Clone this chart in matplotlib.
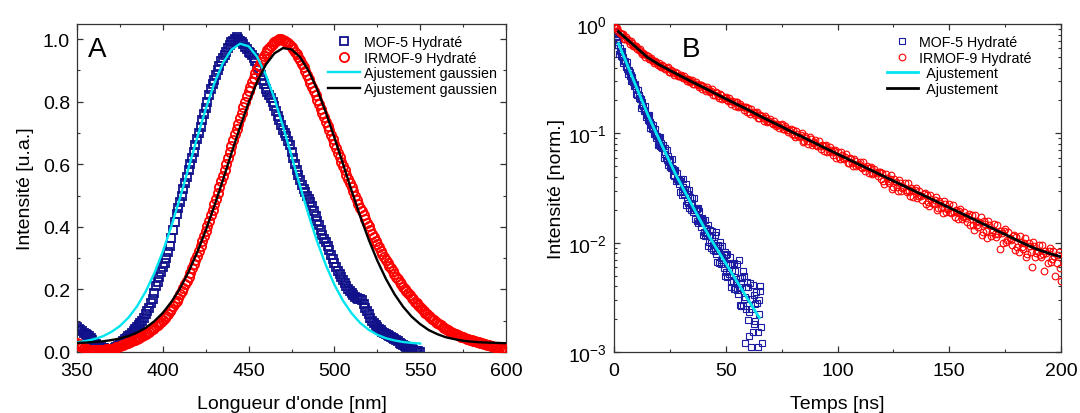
import numpy as np
import matplotlib
matplotlib.use("Agg")
import matplotlib.pyplot as plt
from matplotlib.ticker import MultipleLocator, LogLocator, NullFormatter, FormatStrFormatter

plt.rcParams['font.family'] = ['Liberation Sans', 'DejaVu Sans']
plt.rcParams['mathtext.fontset'] = 'custom'
plt.rcParams['mathtext.rm'] = 'Liberation Sans'
plt.rcParams['mathtext.it'] = 'Liberation Sans'
plt.rcParams['mathtext.default'] = 'regular'

# ---------------- Panel A : emission spectra ----------------
wl_mof5 = list(range(350, 551, 2))
int_mof5 = [0.080, 0.070, 0.060, 0.055, 0.045, 0.030, 0.020, 0.015, 0.012, 0.010,
            0.010, 0.012, 0.020, 0.030, 0.040, 0.050, 0.060, 0.075, 0.085, 0.100,
            0.120, 0.140, 0.170, 0.210, 0.240, 0.270, 0.300, 0.340, 0.390, 0.440,
            0.480, 0.520, 0.560, 0.600, 0.640, 0.680, 0.720, 0.760, 0.800, 0.840,
            0.870, 0.900, 0.930, 0.950, 0.970, 0.990, 1.000, 1.000, 0.990, 0.975,
            0.960, 0.950, 0.930, 0.900, 0.870, 0.840, 0.820, 0.800, 0.770, 0.740,
            0.710, 0.690, 0.660, 0.620, 0.580, 0.550, 0.520, 0.500, 0.480, 0.450,
            0.420, 0.390, 0.360, 0.340, 0.310, 0.285, 0.260, 0.240, 0.220, 0.200,
            0.190, 0.175, 0.170, 0.165, 0.140, 0.120, 0.100, 0.085, 0.075, 0.065,
            0.056, 0.050, 0.044, 0.038, 0.030, 0.022, 0.016, 0.010, 0.006, 0.003,
            0.000]
wl_mof5_odd = list(range(351, 550, 2))
int_mof5_odd = [0.075, 0.068, 0.058, 0.050, 0.038, 0.025, 0.017, 0.013, 0.011, 0.010,
                0.011, 0.016, 0.025, 0.035, 0.045, 0.055, 0.068, 0.080, 0.092, 0.110,
                0.130, 0.155, 0.190, 0.225, 0.255, 0.285, 0.320, 0.365, 0.415, 0.460,
                0.500, 0.540, 0.580, 0.620, 0.660, 0.700, 0.740, 0.780, 0.820, 0.855,
                0.885, 0.915, 0.940, 0.960, 0.980, 0.995, 1.005, 0.995, 0.985, 0.968,
                0.955, 0.940, 0.915, 0.885, 0.855, 0.830, 0.810, 0.785, 0.755, 0.725,
                0.700, 0.675, 0.640, 0.600, 0.565, 0.535, 0.510, 0.490, 0.465, 0.435,
                0.405, 0.375, 0.350, 0.325, 0.298, 0.272, 0.250, 0.230, 0.210, 0.195,
                0.182, 0.172, 0.168, 0.152, 0.130, 0.110, 0.092, 0.080, 0.070, 0.060,
                0.053, 0.047, 0.041, 0.034, 0.026, 0.019, 0.013, 0.008, 0.004, 0.002]

wl_irmof9 = list(range(350, 601, 2))
int_irmof9 = [0.030, 0.020, 0.012, 0.008, 0.006, 0.005, 0.005, 0.006, 0.007, 0.008,
              0.010, 0.013, 0.017, 0.021, 0.025, 0.030, 0.034, 0.039, 0.045, 0.051,
              0.058, 0.065, 0.073, 0.082, 0.092, 0.103, 0.116, 0.130, 0.146, 0.164,
              0.184, 0.205, 0.228, 0.254, 0.280, 0.308, 0.338, 0.370, 0.403, 0.437,
              0.472, 0.508, 0.545, 0.582, 0.620, 0.658, 0.695, 0.730, 0.765, 0.800,
              0.833, 0.862, 0.890, 0.915, 0.937, 0.956, 0.972, 0.985, 0.995, 1.000,
              0.998, 0.992, 0.982, 0.968, 0.951, 0.932, 0.910, 0.886, 0.860, 0.833,
              0.806, 0.778, 0.750, 0.722, 0.694, 0.666, 0.637, 0.608, 0.580, 0.553,
              0.527, 0.500, 0.474, 0.449, 0.425, 0.401, 0.378, 0.356, 0.335, 0.314,
              0.295, 0.276, 0.258, 0.241, 0.225, 0.209, 0.195, 0.181, 0.168, 0.155,
              0.143, 0.132, 0.121, 0.111, 0.102, 0.093, 0.085, 0.078, 0.071, 0.065,
              0.059, 0.054, 0.049, 0.045, 0.041, 0.037, 0.034, 0.031, 0.028, 0.025,
              0.022, 0.019, 0.016, 0.013, 0.010, 0.008]
wl_irmof9_odd = list(range(351, 600, 2))
int_irmof9_odd = [0.025, 0.016, 0.010, 0.007, 0.005, 0.005, 0.005, 0.006, 0.008, 0.009,
                  0.011, 0.015, 0.019, 0.023, 0.028, 0.032, 0.037, 0.042, 0.048, 0.054,
                  0.062, 0.069, 0.078, 0.087, 0.097, 0.110, 0.123, 0.138, 0.155, 0.174,
                  0.194, 0.216, 0.241, 0.267, 0.294, 0.323, 0.354, 0.386, 0.420, 0.455,
                  0.490, 0.527, 0.563, 0.601, 0.639, 0.677, 0.713, 0.748, 0.783, 0.818,
                  0.848, 0.876, 0.903, 0.926, 0.947, 0.965, 0.979, 0.990, 0.998, 1.000,
                  0.995, 0.987, 0.975, 0.960, 0.942, 0.921, 0.898, 0.873, 0.847, 0.820,
                  0.792, 0.764, 0.736, 0.708, 0.680, 0.652, 0.622, 0.594, 0.566, 0.540,
                  0.513, 0.487, 0.461, 0.437, 0.413, 0.389, 0.367, 0.345, 0.324, 0.304,
                  0.285, 0.267, 0.249, 0.233, 0.217, 0.202, 0.188, 0.174, 0.161, 0.149,
                  0.137, 0.126, 0.116, 0.106, 0.097, 0.089, 0.081, 0.074, 0.068, 0.062,
                  0.056, 0.051, 0.047, 0.043, 0.039, 0.035, 0.032, 0.029, 0.026, 0.023,
                  0.020, 0.017, 0.014, 0.011, 0.009]

wl_fit_mof5 = list(range(350, 551, 5))
fit_mof5 = [0.031, 0.035, 0.041, 0.050, 0.064, 0.083, 0.110, 0.146, 0.193, 0.251,
            0.321, 0.402, 0.492, 0.588, 0.684, 0.776, 0.858, 0.923, 0.966, 0.985,
            0.977, 0.943, 0.886, 0.811, 0.722, 0.627, 0.530, 0.437, 0.352, 0.278,
            0.215, 0.164, 0.124, 0.093, 0.071, 0.055, 0.044, 0.037, 0.032, 0.029,
            0.027]

wl_fit_irmof9 = list(range(350, 601, 5))
fit_irmof9 = [0.029, 0.030, 0.032, 0.034, 0.038, 0.043, 0.051, 0.062, 0.077, 0.098,
              0.125, 0.160, 0.203, 0.256, 0.318, 0.388, 0.466, 0.549, 0.635, 0.718,
              0.796, 0.864, 0.918, 0.954, 0.971, 0.967, 0.942, 0.898, 0.839, 0.766,
              0.685, 0.601, 0.516, 0.434, 0.359, 0.292, 0.234, 0.185, 0.145, 0.113,
              0.089, 0.070, 0.057, 0.047, 0.041, 0.036, 0.033, 0.031, 0.030, 0.029,
              0.028]

# ---------------- Panel B : decays ----------------
t_mof5 = [i * 0.5 for i in range(131)] + [65.5, 66.0]
dec_mof5 = [0.871, 0.813, 0.759, 0.708, 0.646, 0.565, 0.558, 0.498, 0.504, 0.461,
            0.456, 0.406, 0.390, 0.378, 0.337, 0.344, 0.308, 0.296, 0.271, 0.272,
            0.255, 0.225, 0.223, 0.206, 0.207, 0.181, 0.179, 0.159, 0.161, 0.147,
            0.146, 0.130, 0.126, 0.122, 0.110, 0.113, 0.1016, 0.0984, 0.0906, 0.0912,
            0.0929, 0.0769, 0.0811, 0.0729, 0.0789, 0.0641, 0.0670, 0.0565, 0.0617, 0.0551,
            0.0574, 0.0484, 0.0478, 0.0476, 0.0406, 0.0451, 0.0386, 0.0383, 0.0344, 0.0370,
            0.0379, 0.0275, 0.0323, 0.0277, 0.0343, 0.0240, 0.0276, 0.0208, 0.0262, 0.0221,
            0.0254, 0.0191, 0.0197, 0.0207, 0.0159, 0.0208, 0.0160, 0.0164, 0.0138, 0.0168,
            0.0158, 0.0115, 0.0136, 0.0117, 0.0145, 0.0102, 0.0118, 0.00889, 0.0113, 0.00951,
            0.0118, 0.00794, 0.00855, 0.00944, 0.00653, 0.01005, 0.00693, 0.00746, 0.00592, 0.00817,
            0.00764, 0.00485, 0.00634, 0.00516, 0.00733, 0.00441, 0.00558, 0.00376, 0.00547, 0.00435,
            0.00638, 0.00337, 0.00391, 0.00473, 0.00262, 0.00552, 0.00305, 0.00120, 0.00247, 0.00433,
            0.00397, 0.00140, 0.00306, 0.00110, 0.00410, 0.00180, 0.00275, 0.00090, 0.00279, 0.00110,
            0.00297, 0.00360, 0.00120]
t_mof5_b = [0.25, 0.75, 1.25, 1.75] + [i * 0.5 + 0.25 for i in range(4, 130)] + [65.25, 65.75]
dec_mof5_b = [0.840, 0.780, 0.730, 0.690,
              0.535, 0.608, 0.512, 0.562, 0.442, 0.458, 0.413, 0.453, 0.348, 0.369,
              0.361, 0.300, 0.329, 0.283, 0.284, 0.231, 0.228, 0.250, 0.210, 0.211,
              0.171, 0.195, 0.164, 0.179, 0.141, 0.146, 0.132, 0.146, 0.113, 0.120,
              0.118, 0.0989, 0.109, 0.0944, 0.0951, 0.0776,
              0.0791, 0.0927, 0.0752, 0.0774, 0.0597, 0.0735, 0.0596, 0.0698, 0.0513, 0.0556,
              0.0495, 0.0581, 0.0413, 0.0462, 0.0461, 0.0368, 0.0435, 0.0365, 0.0378, 0.0293,
              0.0296, 0.0382, 0.0290, 0.0312, 0.0221, 0.0306, 0.0233, 0.0301, 0.0199, 0.0229,
              0.0200, 0.0258, 0.0163, 0.0197, 0.0202, 0.0150, 0.0194, 0.0154, 0.0166, 0.0117,
              0.0124, 0.0160, 0.0122, 0.0132, 0.00938, 0.0130, 0.00995, 0.0129, 0.00857, 0.00989,
              0.00845, 0.0124, 0.00667, 0.00885, 0.00940, 0.00634, 0.00927, 0.00690, 0.00780, 0.00494,
              0.00541, 0.00791, 0.00552, 0.00624, 0.00395, 0.00637, 0.00444, 0.00650, 0.00373, 0.00466,
              0.00372, 0.00692, 0.00268, 0.00428, 0.00480, 0.00264, 0.00491, 0.00316, 0.00391, 0.00195,
              0.00230, 0.00427, 0.00248, 0.00307, 0.00153, 0.00331, 0.00192, 0.00357, 0.00153, 0.00221,
              0.00400, 0.00170]

t_irmof9 = list(range(0, 201))
dec_irmof9 = [0.980, 0.920, 0.870, 0.803, 0.813, 0.729, 0.729, 0.663, 0.676, 0.631,
              0.630, 0.573, 0.559, 0.547, 0.499, 0.513, 0.475, 0.469, 0.442, 0.452,
              0.437, 0.401, 0.409, 0.390, 0.401, 0.365, 0.371, 0.344, 0.357, 0.338,
              0.344, 0.319, 0.316, 0.315, 0.292, 0.306, 0.285, 0.283, 0.268, 0.277,
              0.272, 0.243, 0.254, 0.239, 0.253, 0.223, 0.232, 0.209, 0.224, 0.209,
              0.217, 0.196, 0.196, 0.198, 0.179, 0.194, 0.177, 0.177, 0.165, 0.174,
              0.170, 0.151, 0.158, 0.148, 0.158, 0.139, 0.145, 0.130, 0.139, 0.130,
              0.135, 0.122, 0.122, 0.123, 0.112, 0.121, 0.110, 0.111, 0.103, 0.109,
              0.1075, 0.0917, 0.0994, 0.0920, 0.1017, 0.0855, 0.0915, 0.0793, 0.0889, 0.0817,
              0.0872, 0.0758, 0.0769, 0.0785, 0.0688, 0.0783, 0.0689, 0.0697, 0.0639, 0.0703,
              0.0681, 0.0581, 0.0628, 0.0582, 0.0643, 0.0541, 0.0579, 0.0501, 0.0563, 0.0518,
              0.0552, 0.0480, 0.0488, 0.0498, 0.0436, 0.0497, 0.0438, 0.0444, 0.0407, 0.0446,
              0.0431, 0.0343, 0.0391, 0.0353, 0.0413, 0.0323, 0.0362, 0.0295, 0.0355, 0.0316,
              0.0352, 0.0291, 0.0300, 0.0313, 0.0259, 0.0318, 0.0266, 0.0275, 0.0244, 0.0284,
              0.0275, 0.0218, 0.0249, 0.0225, 0.0263, 0.0206, 0.0231, 0.0187, 0.0226, 0.0202,
              0.0224, 0.0185, 0.0191, 0.0199, 0.0165, 0.0203, 0.0170, 0.0176, 0.0156, 0.0181,
              0.0178, 0.0130, 0.0159, 0.0139, 0.0173, 0.0124, 0.0148, 0.0111, 0.0146, 0.0126,
              0.0147, 0.0113, 0.0120, 0.0128, 0.00996, 0.0134, 0.0105, 0.0111, 0.00946, 0.0117,
              0.0113, 0.00830, 0.0101, 0.00880, 0.0110, 0.00791, 0.00942, 0.00600, 0.00938, 0.00809,
              0.00948, 0.00736, 0.00784, 0.00845, 0.00658, 0.00891, 0.00709, 0.00755, 0.00649, 0.00816,
              0.00445]
t_irmof9_b = [i + 0.5 for i in range(0, 200)]
dec_irmof9_b = [0.931, 0.924, 0.828, 0.809, 0.736, 0.753, 0.694, 0.702, 0.632, 0.626,
                0.591, 0.596, 0.532, 0.531, 0.516, 0.477, 0.488, 0.459, 0.455, 0.419,
                0.414, 0.424, 0.398, 0.396, 0.366, 0.380, 0.357, 0.367, 0.336, 0.338,
                0.325, 0.334, 0.303, 0.309, 0.304, 0.284, 0.293, 0.278, 0.276, 0.256,
                0.252, 0.266, 0.245, 0.246, 0.222, 0.238, 0.220, 0.231, 0.205, 0.210,
                0.201, 0.212, 0.186, 0.193, 0.192, 0.175, 0.185, 0.173, 0.173, 0.156,
                0.157, 0.166, 0.152, 0.153, 0.138, 0.148, 0.137, 0.143, 0.127, 0.131,
                0.125, 0.131, 0.116, 0.120, 0.120, 0.110, 0.116, 0.108, 0.108, 0.0984,
                0.0962, 0.1057, 0.0947, 0.0968, 0.0839, 0.0950, 0.0849, 0.0930, 0.0788, 0.0829,
                0.0782, 0.0855, 0.0712, 0.0762, 0.0765, 0.0677, 0.0744, 0.0677, 0.0692, 0.0600,
                0.0610, 0.0669, 0.0599, 0.0613, 0.0531, 0.0601, 0.0537, 0.0588, 0.0499, 0.0526,
                0.0495, 0.0542, 0.0451, 0.0484, 0.0485, 0.0429, 0.0473, 0.0431, 0.0440, 0.0381,
                0.0367, 0.0426, 0.0366, 0.0383, 0.0311, 0.0380, 0.0326, 0.0377, 0.0298, 0.0325,
                0.0302, 0.0349, 0.0268, 0.0301, 0.0305, 0.0258, 0.0300, 0.0265, 0.0277, 0.0226,
                0.0234, 0.0272, 0.0233, 0.0244, 0.0198, 0.0242, 0.0207, 0.0239, 0.0189, 0.0207,
                0.0192, 0.0222, 0.0171, 0.0192, 0.0196, 0.0165, 0.0192, 0.0169, 0.0177, 0.0144,
                0.0144, 0.0178, 0.0146, 0.0156, 0.0117, 0.0157, 0.0128, 0.0157, 0.0114, 0.0131,
                0.0119, 0.0146, 0.00880, 0.0123, 0.0127, 0.0101, 0.0125, 0.0106, 0.0114, 0.00854,
                0.00914, 0.0114, 0.00922, 0.00993, 0.00746, 0.0100, 0.00815, 0.0101, 0.00736, 0.00846,
                0.00769, 0.00953, 0.00550, 0.00806, 0.00836, 0.00668, 0.00841, 0.00500, 0.00777, 0.00592]

t_fit_mof5 = [2, 5, 7.5, 10, 12.5, 15, 17.5, 20, 22.5, 25, 27.5, 30, 32.5, 35,
              37.5, 40, 42.5, 45, 47.5, 50, 52.5, 55, 57.5, 60, 62.5, 65]
fit_dec_mof5 = [0.661, 0.471, 0.354, 0.266, 0.200, 0.150, 0.1156, 0.0899, 0.070,
                0.0546, 0.0425, 0.034, 0.0273, 0.0219, 0.0176, 0.01416, 0.01148,
                0.00948, 0.00783, 0.00647, 0.00535, 0.00442, 0.00365, 0.00301,
                0.00249, 0.00206]

t_fit_irmof9 = [2] + list(range(5, 201, 5))
fit_dec_irmof9 = [0.851, 0.750, 0.610, 0.495, 0.427, 0.376, 0.333, 0.295, 0.263, 0.233,
                  0.207, 0.184, 0.164, 0.145, 0.129, 0.115, 0.102, 0.0912, 0.0813, 0.0724,
                  0.0646, 0.0577, 0.0515, 0.0460, 0.0411, 0.0367, 0.0328, 0.0293, 0.0262,
                  0.0234, 0.0209, 0.0187, 0.0167, 0.0149, 0.0133, 0.0119, 0.0106, 0.00948,
                  0.00859, 0.00794, 0.00741]

lab_mof5 = "MOF-5 Hydraté"
lab_irmof9 = "IRMOF-9 Hydraté"

navy = '#10108a'
navy2 = '#1c1ca0'
red = '#ff0000'
cyan = '#00e5ef'
spine_col = '#333333'

fig = plt.figure(figsize=(10.8, 4.14), dpi=100)
ax1 = fig.add_axes([77 / 1080, 1 - 353 / 414, 429 / 1080, 328 / 414])
ax2 = fig.add_axes([614 / 1080, 1 - 353 / 414, 447 / 1080, 328 / 414])

# Panel A
sq_kw = dict(ls='none', marker='s', ms=6.0, mfc='none', mec=navy, mew=1.3)
ci_kw = dict(ls='none', marker='o', ms=6.6, mfc='none', mec=red, mew=1.3)
ax1.plot(wl_mof5, int_mof5, label=lab_mof5, zorder=2, **sq_kw)
ax1.plot(wl_mof5_odd, int_mof5_odd, zorder=2, **sq_kw)
ax1.plot(wl_irmof9, int_irmof9, label=lab_irmof9, zorder=3, **ci_kw)
ax1.plot(wl_irmof9_odd, int_irmof9_odd, zorder=3, **ci_kw)
ax1.plot(wl_fit_mof5, fit_mof5, color=cyan, lw=1.7, label='Ajustement gaussien', zorder=4)
ax1.plot(wl_fit_irmof9, fit_irmof9, color='black', lw=1.7, label='Ajustement gaussien', zorder=5)
ax1.set_xlim(350, 600)
ax1.set_ylim(0, 1.048)
ax1.xaxis.set_major_locator(MultipleLocator(50))
ax1.xaxis.set_minor_locator(MultipleLocator(25))
ax1.yaxis.set_major_locator(MultipleLocator(0.2))
ax1.yaxis.set_minor_locator(MultipleLocator(0.1))
ax1.yaxis.set_major_formatter(FormatStrFormatter('%.1f'))
ax1.set_xlabel("Longueur d'onde [nm]", fontsize=14, labelpad=12)
ax1.set_ylabel("Intensité [u.a.]", fontsize=14)
ax1.yaxis.set_label_coords(-0.100, 0.5)
ax1.text(0.026, 0.903, 'A', transform=ax1.transAxes, fontsize=20, va='baseline')
ax1.legend(loc='upper left', bbox_to_anchor=(0.586, 0.965), frameon=False,
           fontsize=10.3, borderpad=0, borderaxespad=0, handlelength=2.2,
           handletextpad=0.3, labelspacing=0.1)

# Panel B
sq2_kw = dict(ls='none', marker='s', ms=4.3, mfc='none', mec=navy2, mew=0.8)
ci2_kw = dict(ls='none', marker='o', ms=4.8, mfc='none', mec=red, mew=0.8)
ax2.plot(t_mof5, dec_mof5, label=lab_mof5, zorder=2, **sq2_kw)
ax2.plot(t_mof5_b, dec_mof5_b, zorder=2, **sq2_kw)
ax2.plot(t_irmof9, dec_irmof9, label=lab_irmof9, zorder=3, **ci2_kw)
ax2.plot(t_irmof9_b, dec_irmof9_b, zorder=3, **ci2_kw)
ax2.plot(t_fit_mof5, fit_dec_mof5, color=cyan, lw=2.0, label='  Ajustement', zorder=4)
ax2.plot(t_fit_irmof9, fit_dec_irmof9, color='black', lw=2.0, label='  Ajustement', zorder=5)
ax2.set_yscale('log')
ax2.set_xlim(0, 200)
ax2.set_ylim(1e-3, 1)
ax2.xaxis.set_major_locator(MultipleLocator(50))
ax2.xaxis.set_minor_locator(MultipleLocator(25))
ax2.yaxis.set_major_locator(LogLocator(base=10, numticks=10))
ax2.yaxis.set_minor_locator(LogLocator(base=10, subs=np.arange(2, 10), numticks=10))
ax2.yaxis.set_minor_formatter(NullFormatter())
ax2.set_xlabel("Temps [ns]", fontsize=14, labelpad=12)
ax2.set_ylabel("Intensité [norm.]", fontsize=14)
ax2.yaxis.set_label_coords(-0.110, 0.5)
ax2.text(0.152, 0.902, 'B', transform=ax2.transAxes, fontsize=20, va='baseline')
ax2.legend(loc='upper left', bbox_to_anchor=(0.61, 0.965), frameon=False,
           fontsize=10.3, borderpad=0, borderaxespad=0, handlelength=2.2,
           handletextpad=0.05, labelspacing=0.1)

for ax in (ax1, ax2):
    for sp in ax.spines.values():
        sp.set_color(spine_col)
        sp.set_linewidth(0.9)
    ax.tick_params(which='both', direction='in', top=True, right=True,
                   color=spine_col, labelsize=14)
    ax.tick_params(axis='y', which='major', pad=5)
    ax.tick_params(axis='x', which='major', pad=7)
    ax.tick_params(which='major', length=4.5, width=0.9)
    ax.tick_params(which='minor', length=2.5, width=0.8)

fig.savefig('out.png', dpi=100)
